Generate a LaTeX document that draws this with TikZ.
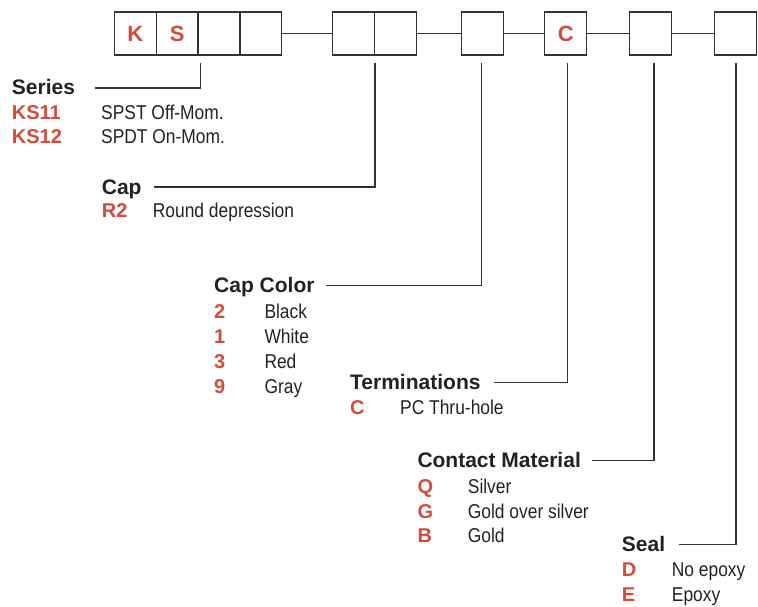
\documentclass[tikz,border=0pt]{standalone}
\usepackage{fontspec}
\setmainfont{Liberation Sans}
\newfontfamily\descfont[FakeStretch=0.87]{Liberation Sans}
\definecolor{codered}{RGB}{214,74,58}
\definecolor{linegray}{RGB}{51,51,51}
\definecolor{textgray}{RGB}{34,34,34}
\usetikzlibrary{positioning}

\tikzset{
  digit/.style={draw=linegray, line width=1.2pt, minimum width=42, minimum height=43,
    inner sep=0, outer sep=0, text=codered, font=\fontsize{22}{22}\selectfont\bfseries},
  head/.style={anchor=base west, inner sep=0, text=textgray, font=\fontsize{21}{21}\selectfont\bfseries},
  code/.style={anchor=base west, inner sep=0, text=codered, font=\fontsize{20}{20}\selectfont\bfseries},
  desc/.style={anchor=base west, inner sep=0, text=textgray, font=\descfont\fontsize{20}{20}\selectfont},
  lead/.style={draw=linegray, line width=1.2pt}
}

\begin{document}
\begin{tikzpicture}[x=1pt,y=-1pt]
\useasboundingbox (0,0) rectangle (758,607);

% Kästchen oben
\node[digit] (b1) at (135.2,33.5) {K};
\node[digit] (b2) at (177.1,33.5) {S};
\node[digit] (b3) at (219.0,33.5) {};
\node[digit] (b4) at (260.8,33.5) {};
\node[digit] (c1) at (353.5,33.5) {};
\node[digit] (c2) at (395.5,33.5) {};
\node[digit] (cc) at (482.5,33.5) {};
\node[digit] (te) at (565.7,33.5) {C};
\node[digit] (cm) at (650.8,33.5) {};
\node[digit] (se) at (735.3,33.5) {};

% Verbindungen zwischen den Gruppen
\draw[lead] (b4.east) -- (c1.west);
\draw[lead] (c2.east) -- (cc.west);
\draw[lead] (cc.east) -- (te.west);
\draw[lead] (te.east) -- (cm.west);
\draw[lead] (cm.east) -- (se.west);

% Anfangspunkte der Zuleitungen
\coordinate (tSer) at (200.7,63);
\coordinate (tCap) at (375.0,63);
\coordinate (tCol) at (481.7,63);
\coordinate (tTer) at (567.7,63);
\coordinate (tMat) at (654.0,63);
\coordinate (tSea) at (736.0,63);

% Series
\node[head] (ser) at (11.7,95) {Series};
\node[code] (ks11) at (11.7,119.5) {KS11};
\node[desc] (spst) at (101,119.5) {SPST Off-Mom.};
\node[code] (ks12) at (11.7,144) {KS12};
\node[desc] (spdt) at (101,144) {SPDT On-Mom.};

% Cap
\node[head] (cap) at (101.7,194) {Cap};
\node[code] (r2) at (101.7,217.5) {R2};
\node[desc] (round) at (152.7,217.5) {Round depression};

% Cap Color
\node[head] (col) at (214,292.7) {Cap Color};
\node[code] (k2) at (214,318.3) {2};
\node[desc] (black) at (264.3,318.3) {Black};
\node[code] (k1) at (214,343.3) {1};
\node[desc] (white) at (264.3,343.3) {White};
\node[code] (k3) at (214,368.3) {3};
\node[desc] (red) at (264.3,368.3) {Red};
\node[code] (k9) at (214,393.3) {9};
\node[desc] (gray) at (264.3,393.3) {Gray};

% Terminations
\node[head] (ter) at (350,389.3) {Terminations};
\node[code] (kc) at (350,414) {C};
\node[desc] (pc) at (400,414) {PC Thru-hole};

% Contact Material
\node[head] (mat) at (417.3,467.3) {Contact Material};
\node[code] (kq) at (417.3,493) {Q};
\node[desc] (silver) at (467.7,493) {Silver};
\node[code] (kg) at (417.3,518.3) {G};
\node[desc] (gos) at (467.7,518.3) {Gold over silver};
\node[code] (kb) at (417.3,542.7) {B};
\node[desc] (gold) at (467.7,542.7) {Gold};

% Seal
\node[head] (sea) at (621.7,551.7) {Seal};
\node[code] (kd) at (621.7,576.7) {D};
\node[desc] (noep) at (671.7,576.7) {No epoxy};
\node[code] (ke) at (621.7,601.7) {E};
\node[desc] (epox) at (671.7,601.7) {Epoxy};

% Zuleitungen
\draw[lead] (tSer) |- ([shift={(20,-7)}]ser.base east);
\draw[lead] (tCap) |- ([shift={(12,-7)}]cap.base east);
\draw[lead] (tCol) |- ([shift={(11,-7)}]col.base east);
\draw[lead] (tTer) |- ([shift={(13,-7)}]ter.base east);
\draw[lead] (tMat) |- ([shift={(11,-7)}]mat.base east);
\draw[lead] (tSea) |- ([shift={(14,-7)}]sea.base east);

\end{tikzpicture}
\end{document}
